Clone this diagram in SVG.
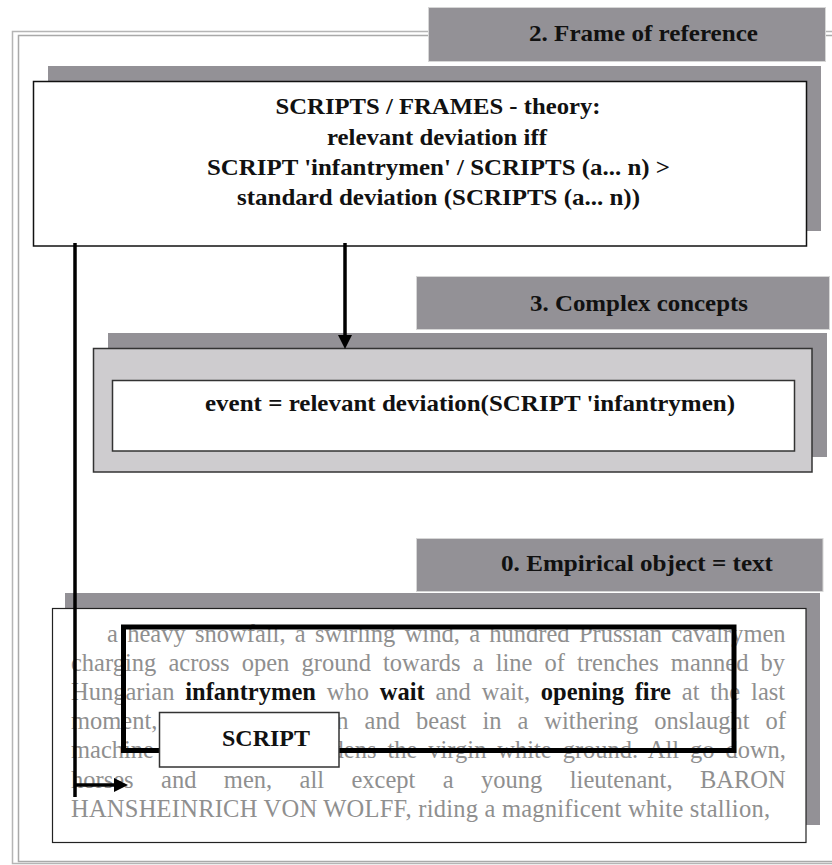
<svg xmlns="http://www.w3.org/2000/svg" width="832" height="865" viewBox="0 0 832 865">
  <defs>
    <style>
      .frame-outer { fill: none; stroke: #b5b5b5; stroke-width: 1.5; }
      .frame-inner { fill: none; stroke: #a9a9a9; stroke-width: 1.5; }
      .tab { fill: #939196; stroke: #d6d6d6; stroke-width: 1; }
      .shadow { fill: #939196; }
      .box { fill: #ffffff; stroke: #111111; stroke-width: 1.5; }
      .box-grey { fill: #cecccf; stroke: #333333; stroke-width: 1.5; }
      .head { font-family: "Liberation Serif", "Times New Roman", serif; font-weight: bold; font-size: 23px; fill: #111111; text-anchor: middle; }
      .para { font-family: "Liberation Serif", "Times New Roman", serif; font-size: 24.5px; fill: #8f8f8f; }
      .para .em { font-weight: bold; fill: #111111; }
      .conn { fill: none; stroke: #000000; stroke-width: 3.5; }
    </style>
    <marker id="arrow" markerUnits="userSpaceOnUse" markerWidth="14" markerHeight="14" refX="0" refY="7" orient="auto">
      <path d="M0,0 L14,7 L0,14 Z" fill="#000000"/>
    </marker>
  </defs>

  <rect width="832" height="865" fill="#ffffff"/>

  <!-- double page border -->
  <g id="page-frame">
    <rect class="frame-outer" x="12.5" y="31.5" width="840" height="832"/>
    <rect class="frame-inner" x="18.5" y="35.5" width="830" height="826"/>
  </g>

  <!-- level 2 -->
  <g id="tab-frame-of-reference">
    <rect class="tab" x="428.5" y="7.5" width="397" height="54"/>
    <text class="head" x="643.5" y="41" textLength="229" lengthAdjust="spacingAndGlyphs">2. Frame of reference</text>
  </g>

  <g id="node-theory">
    <rect class="shadow" x="48" y="66" width="773" height="165"/>
    <rect class="box" x="33.5" y="81.5" width="773" height="164.5"/>
    <text class="head" x="438" y="114" textLength="325" lengthAdjust="spacingAndGlyphs">SCRIPTS / FRAMES - theory:</text>
    <text class="head" x="437" y="144.5" textLength="220" lengthAdjust="spacingAndGlyphs">relevant deviation iff</text>
    <text class="head" x="438.5" y="175" textLength="463" lengthAdjust="spacingAndGlyphs">SCRIPT 'infantrymen' / SCRIPTS (a... n) &gt;</text>
    <text class="head" x="438.5" y="205" textLength="403" lengthAdjust="spacingAndGlyphs">standard deviation (SCRIPTS (a... n))</text>
  </g>

  <!-- level 3 -->
  <g id="tab-complex-concepts">
    <rect class="tab" x="416.5" y="276.5" width="413" height="53"/>
    <text class="head" x="639" y="311" textLength="218" lengthAdjust="spacingAndGlyphs">3. Complex concepts</text>
  </g>

  <g id="node-event">
    <rect class="shadow" x="108" y="333" width="719" height="124"/>
    <rect class="box-grey" x="93.5" y="348.5" width="718.5" height="123.5"/>
    <rect class="box" x="112.5" y="380.5" width="682" height="70.5" style="stroke:#333333"/>
    <text class="head" x="470" y="411" textLength="530" lengthAdjust="spacingAndGlyphs">event = relevant deviation(SCRIPT 'infantrymen)</text>
  </g>

  <!-- level 0 -->
  <g id="tab-empirical-object">
    <rect class="tab" x="416.5" y="538.5" width="406.5" height="53"/>
    <text class="head" x="637" y="571" textLength="272" lengthAdjust="spacingAndGlyphs">0. Empirical object = text</text>
  </g>

  <g id="node-text">
    <rect class="shadow" x="65" y="593" width="755" height="232"/>
    <rect class="box" x="52.5" y="608.5" width="753.5" height="234" style="stroke:#222222;stroke-width:1.2"/>
    <g class="para">
      <text x="107" y="642" word-spacing="3.2">a heavy snowfall, a swirling wind, a hundred Prussian cavalrymen</text>
      <text x="71" y="671" word-spacing="6">charging across open ground towards a line of trenches manned by</text>
      <text x="71" y="700" word-spacing="4.7">Hungarian <tspan class="em">infantrymen</tspan> who <tspan class="em">wait</tspan> and wait, <tspan class="em">opening fire</tspan> at the last</text>
      <text x="71" y="729">moment,</text>
      <text x="786" y="729" word-spacing="9.9" text-anchor="end">n and beast in a withering onslaught of</text>
      <text x="71" y="758">machine</text>
      <text x="786" y="758" word-spacing="4.8" text-anchor="end">dens the virgin white ground. All go down,</text>
      <text x="71" y="788" word-spacing="21.3">horses and men, all except a young lieutenant, BARON</text>
      <text x="71" y="817" textLength="699" lengthAdjust="spacing">HANSHEINRICH VON WOLFF, riding a magnificent white stallion,</text>
    </g>
  </g>

  <!-- script span marked in the text -->
  <g id="node-script">
    <rect x="123.5" y="627" width="610.5" height="123.5" fill="none" stroke="#000000" stroke-width="5"/>
    <rect class="box" x="159.5" y="712.5" width="179.5" height="54.5" style="stroke:#333333"/>
    <text class="head" x="266" y="746" font-size="24" textLength="88" lengthAdjust="spacingAndGlyphs">SCRIPT</text>
  </g>

  <g id="connectors">
    <path class="conn" d="M345,243 V335" marker-end="url(#arrow)"/>
    <path class="conn" d="M75,243 V797 M75,785 H114" marker-end="url(#arrow)"/>
  </g>
</svg>
